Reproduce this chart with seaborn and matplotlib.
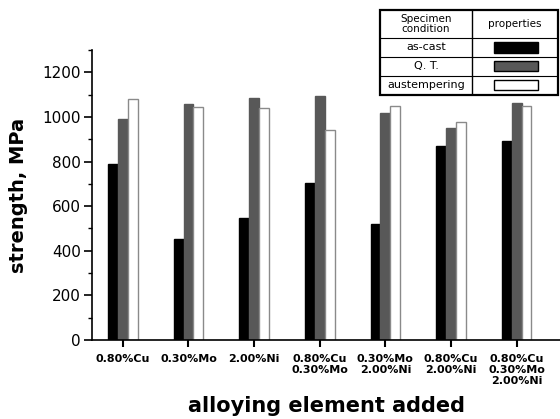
import numpy as np
import pandas as pd
import matplotlib
matplotlib.use('Agg')
import matplotlib.pyplot as plt
from matplotlib.patches import Rectangle
from matplotlib.ticker import MultipleLocator
import seaborn as sns

# data
alloys = ['0.80%Cu', '0.30%Mo', '2.00%Ni', '0.80%Cu\n0.30%Mo', '0.30%Mo\n2.00%Ni',
          '0.80%Cu\n2.00%Ni', '0.80%Cu\n0.30%Mo\n2.00%Ni']
conditions = ['as-cast', 'Q. T.', 'austempering']
as_cast = [787, 455, 549, 702, 522, 869, 891]
qt = [990, 1060, 1085, 1094, 1018, 952, 1064]
austemper = [1081, 1045, 1042, 943, 1049, 976, 1049]

colors = ['#000000', '#585858', '#ffffff']
edges = ['#000000', '#585858', '#8a8a8a']

df = pd.DataFrame({
    'alloy': alloys * 3,
    'strength': as_cast + qt + austemper,
    'condition': [c for c in conditions for _ in alloys],
})

sns.set_style('ticks')
plt.rcParams['font.family'] = ['DejaVu Sans']
plt.rcParams['text.color'] = 'black'
plt.rcParams['axes.labelcolor'] = 'black'
plt.rcParams['xtick.color'] = 'black'
plt.rcParams['ytick.color'] = 'black'
plt.rcParams['axes.edgecolor'] = 'black'

fig = plt.figure(figsize=(5.6, 4.19), dpi=100)
ax = fig.add_axes([92 / 560, 79 / 419, 468 / 560, 290 / 419])

sns.barplot(data=df, x='alloy', y='strength', hue='condition', order=alloys,
            hue_order=conditions, palette=colors, width=0.45, legend=False,
            ax=ax, saturation=1)

for i, cont in enumerate(ax.containers):
    for p in cont:
        p.set_edgecolor(edges[i])
        p.set_linewidth(1.0)

ax.set_xlim(-0.47, 6.66)
ax.set_ylim(0, 1300)
ax.set_yticks(range(0, 1201, 200))
ax.yaxis.set_minor_locator(MultipleLocator(100))
sns.despine(ax=ax)
ax.spines['left'].set_linewidth(1.2)
ax.spines['bottom'].set_linewidth(1.2)
ax.tick_params(axis='y', which='major', length=6, width=1.2, labelsize=11, pad=2)
ax.tick_params(axis='y', which='minor', length=3, width=1.0)
ax.tick_params(axis='x', length=5, width=1.5, labelsize=8, pad=5)
for t in ax.get_xticklabels():
    t.set_fontweight('bold')
    t.set_linespacing(1.15)

ax.set_xlabel('alloying element added', fontsize=15, fontweight='bold', labelpad=7)
ax.set_ylabel('strength, MPa', fontsize=14, fontweight='bold', labelpad=10)

# legend drawn as a small table, top right
tab = fig.add_axes([380 / 560, 324 / 419, 178 / 560, 85 / 419])
tab.set_xlim(0, 1)
tab.set_ylim(0, 1)
tab.axis('off')
rows = [1.0, 0.671, 0.447, 0.224, 0.0]
col = 0.517
tab.add_patch(Rectangle((0, 0), 1, 1, fill=False, lw=1.6, ec='black', clip_on=False))
for y in rows[1:-1]:
    tab.plot([0, 1], [y, y], color='black', lw=0.8)
tab.plot([col, col], [0, 1], color='black', lw=1.0)
tab.text(col / 2, (rows[0] + rows[1]) / 2, 'Specimen\ncondition', ha='center',
         va='center', fontsize=7.5, linespacing=1.1)
tab.text((col + 1) / 2, (rows[0] + rows[1]) / 2, 'properties', ha='center',
         va='center', fontsize=7.5)
for i, c in enumerate(conditions):
    yc = (rows[i + 1] + rows[i + 2]) / 2
    tab.text(col / 2, yc, c, ha='center', va='center', fontsize=8)
    tab.add_patch(Rectangle((0.764 - 0.124, yc - 0.059), 0.247, 0.118,
                            fc=colors[i], ec='black', lw=1.0))

fig.savefig('out.png', dpi=100)
